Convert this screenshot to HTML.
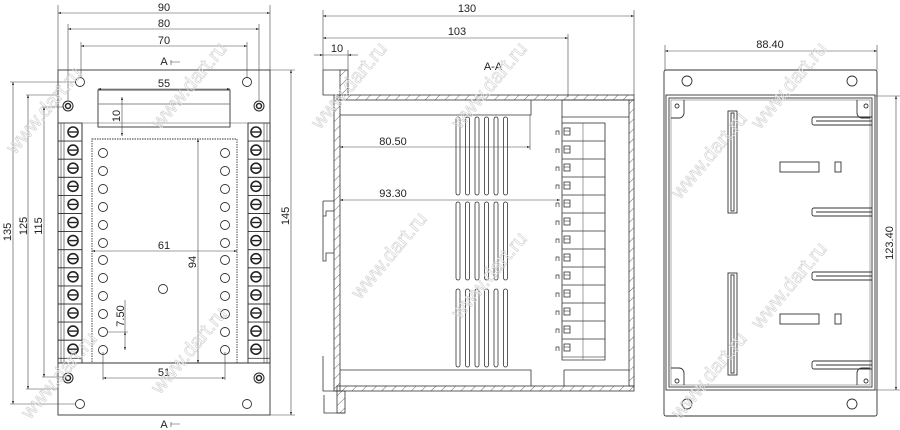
<!DOCTYPE html>
<html><head><meta charset="utf-8"><style>
html,body{margin:0;padding:0;background:#fff}
svg{display:block}
text{font-family:"Liberation Sans",sans-serif;fill:#222}
</style></head><body>
<svg width="900" height="430" viewBox="0 0 900 430" xmlns="http://www.w3.org/2000/svg">
<defs>
<marker id="ar" viewBox="0 0 10 10" refX="10" refY="5" markerWidth="7" markerHeight="5" orient="auto-start-reverse"><path d="M0,1.5L10,5L0,8.5z" fill="#222"/></marker>
<g id="term">
<rect x="58" y="0" width="24" height="18.1" fill="none" stroke="#333" stroke-width="0.8"/>
<circle cx="73" cy="9" r="5" fill="none" stroke="#222" stroke-width="1.6"/>
<line x1="69" y1="9" x2="77" y2="9" stroke="#222" stroke-width="1.4"/>
</g>
<g id="termR">
<rect x="248" y="0" width="22" height="18.1" fill="none" stroke="#333" stroke-width="0.8"/>
<circle cx="256" cy="9" r="5" fill="none" stroke="#222" stroke-width="1.6"/>
<line x1="252" y1="9" x2="260" y2="9" stroke="#222" stroke-width="1.4"/>
</g>
<g id="hole"><circle cx="0" cy="0" r="4.5" fill="none" stroke="#333" stroke-width="0.9"/></g>
<g id="mt">
<rect x="562" y="0" width="43" height="18" fill="none" stroke="#555" stroke-width="0.7"/>
<rect x="564" y="5" width="6" height="7" fill="none" stroke="#333" stroke-width="0.8"/>
<line x1="564" y1="8" x2="570" y2="8" stroke="#333" stroke-width="0.6"/>
<path d="M556,12 v-4 h3 v4" fill="none" stroke="#333" stroke-width="0.7"/>
</g>
<g id="slot"><rect x="0" y="0" width="4" height="78" rx="2" fill="none" stroke="#333" stroke-width="0.8"/></g>
<pattern id="hat" width="7" height="7" patternUnits="userSpaceOnUse" patternTransform="rotate(45)"><line x1="0" y1="0" x2="0" y2="7" stroke="#444" stroke-width="0.8"/></pattern>
</defs>

<!-- ===== LEFT VIEW ===== -->
<g stroke="#333" stroke-width="0.9" fill="none">
<rect x="58" y="70" width="212" height="345"/>
<rect x="58" y="123" width="24" height="240"/>
<rect x="248" y="123" width="22" height="240"/>
<line x1="61" y1="123" x2="61" y2="363" stroke="#777"/>
<line x1="64" y1="123" x2="64" y2="363" stroke="#777"/>
<line x1="264" y1="123" x2="264" y2="363" stroke="#777"/>
<line x1="267" y1="123" x2="267" y2="363" stroke="#777"/>
<line x1="58" y1="363" x2="270" y2="363"/>
<line x1="58" y1="123" x2="270" y2="123" stroke="#aaa"/>
<rect x="98" y="90" width="132" height="37"/>
<line x1="98" y1="104" x2="230" y2="104" stroke="#888"/>
<rect x="92" y="139" width="145" height="224" stroke-dasharray="1.5,1"/>
</g>
<g>
<use href="#term" y="123"/><use href="#term" y="141.1"/><use href="#term" y="159.2"/><use href="#term" y="177.3"/><use href="#term" y="195.4"/><use href="#term" y="213.5"/><use href="#term" y="231.6"/><use href="#term" y="249.7"/><use href="#term" y="267.8"/><use href="#term" y="285.9"/><use href="#term" y="304"/><use href="#term" y="322.1"/><use href="#term" y="340.2"/>
<use href="#termR" y="123"/><use href="#termR" y="141.1"/><use href="#termR" y="159.2"/><use href="#termR" y="177.3"/><use href="#termR" y="195.4"/><use href="#termR" y="213.5"/><use href="#termR" y="231.6"/><use href="#termR" y="249.7"/><use href="#termR" y="267.8"/><use href="#termR" y="285.9"/><use href="#termR" y="304"/><use href="#termR" y="322.1"/><use href="#termR" y="340.2"/>
</g>
<g>
<use href="#hole" x="103" y="153"/><use href="#hole" x="103" y="171"/><use href="#hole" x="103" y="189"/><use href="#hole" x="103" y="207"/><use href="#hole" x="103" y="225"/><use href="#hole" x="103" y="243"/><use href="#hole" x="103" y="260"/><use href="#hole" x="103" y="278"/><use href="#hole" x="103" y="296"/><use href="#hole" x="103" y="314"/><use href="#hole" x="103" y="332"/><use href="#hole" x="103" y="350"/>
<use href="#hole" x="225" y="153"/><use href="#hole" x="225" y="171"/><use href="#hole" x="225" y="189"/><use href="#hole" x="225" y="207"/><use href="#hole" x="225" y="225"/><use href="#hole" x="225" y="243"/><use href="#hole" x="225" y="260"/><use href="#hole" x="225" y="278"/><use href="#hole" x="225" y="296"/><use href="#hole" x="225" y="314"/><use href="#hole" x="225" y="332"/><use href="#hole" x="225" y="350"/>
<use href="#hole" x="163" y="289"/>
<use href="#hole" x="80" y="82"/><use href="#hole" x="247" y="82"/><use href="#hole" x="80" y="404"/><use href="#hole" x="247" y="404"/>
</g>
<g fill="none" stroke="#222">
<circle cx="68" cy="106" r="5" stroke-width="1"/><circle cx="68" cy="106" r="2.5" stroke-width="1.5"/>
<circle cx="259" cy="106" r="5" stroke-width="1"/><circle cx="259" cy="106" r="2.5" stroke-width="1.5"/>
<circle cx="68" cy="378" r="5" stroke-width="1"/><circle cx="68" cy="378" r="2.5" stroke-width="1.5"/>
<circle cx="259" cy="378" r="5" stroke-width="1"/><circle cx="259" cy="378" r="2.5" stroke-width="1.5"/>
</g>
<g stroke="#444" stroke-width="0.6" fill="none">
<line x1="58" y1="5" x2="58" y2="70"/><line x1="270" y1="5" x2="270" y2="70"/>
<line x1="58" y1="13" x2="270" y2="13" marker-start="url(#ar)" marker-end="url(#ar)"/>
<line x1="68" y1="24" x2="68" y2="100"/><line x1="259" y1="24" x2="259" y2="100"/>
<line x1="68" y1="29" x2="259" y2="29" marker-start="url(#ar)" marker-end="url(#ar)"/>
<line x1="81" y1="42" x2="81" y2="77"/><line x1="247" y1="42" x2="247" y2="77"/>
<line x1="81" y1="46" x2="247" y2="46" marker-start="url(#ar)" marker-end="url(#ar)"/>
<line x1="98" y1="89" x2="230" y2="89" marker-start="url(#ar)" marker-end="url(#ar)"/>
<line x1="122" y1="97" x2="122" y2="136" marker-start="url(#ar)" marker-end="url(#ar)"/>
<line x1="92" y1="251" x2="237" y2="251" marker-start="url(#ar)" marker-end="url(#ar)"/>
<line x1="198" y1="139" x2="198" y2="363" marker-start="url(#ar)" marker-end="url(#ar)"/>
<line x1="103" y1="352" x2="103" y2="380"/><line x1="225" y1="352" x2="225" y2="380"/>
<line x1="103" y1="378" x2="225" y2="378" marker-start="url(#ar)" marker-end="url(#ar)"/>
<line x1="108" y1="332" x2="128" y2="332"/>
<line x1="125" y1="332" x2="125" y2="350" marker-start="url(#ar)" marker-end="url(#ar)"/>
<line x1="125" y1="300" x2="125" y2="332"/>
<line x1="10" y1="82" x2="75" y2="82"/><line x1="10" y1="404" x2="75" y2="404"/>
<line x1="13" y1="82" x2="13" y2="404" marker-start="url(#ar)" marker-end="url(#ar)"/>
<line x1="26" y1="95" x2="58" y2="95"/><line x1="26" y1="389" x2="58" y2="389"/>
<line x1="28" y1="95" x2="28" y2="389" marker-start="url(#ar)" marker-end="url(#ar)"/>
<line x1="42" y1="107" x2="63" y2="107"/><line x1="42" y1="377" x2="63" y2="377"/>
<line x1="44" y1="107" x2="44" y2="377" marker-start="url(#ar)" marker-end="url(#ar)"/>
<line x1="270" y1="70" x2="295" y2="70"/><line x1="270" y1="415" x2="295" y2="415"/>
<line x1="291" y1="70" x2="291" y2="415" marker-start="url(#ar)" marker-end="url(#ar)"/>
<path d="M171,60 v5 M171,62 h9" />
<path d="M171,422 v5 M171,424 h9" />
</g>
<g font-size="11" text-anchor="middle">
<text x="164" y="11">90</text>
<text x="164" y="27">80</text>
<text x="164" y="44">70</text>
<text x="164" y="65">A</text>
<text x="164" y="87">55</text>
<text x="164" y="249">61</text>
<text x="164" y="376">51</text>
<text x="164" y="428">A</text>
<text transform="translate(120,116) rotate(-90)">10</text>
<text transform="translate(196,262) rotate(-90)">94</text>
<text transform="translate(124,316) rotate(-90)">7.50</text>
<text transform="translate(11,232) rotate(-90)">135</text>
<text transform="translate(27,226) rotate(-90)">125</text>
<text transform="translate(42,226) rotate(-90)">115</text>
<text transform="translate(289,216) rotate(-90)">145</text>
</g>

<!-- ===== MIDDLE VIEW ===== -->
<g stroke="#333" stroke-width="0.8">
<rect x="337" y="95" width="297" height="5" fill="url(#hat)"/>
<rect x="337" y="386" width="297" height="5" fill="url(#hat)"/>
<rect x="334" y="95" width="6" height="296" fill="url(#hat)"/>
<rect x="629" y="100" width="5" height="286" fill="url(#hat)"/>
<rect x="340" y="70" width="8" height="25" fill="url(#hat)"/>
<rect x="337" y="391" width="8" height="22" fill="url(#hat)"/>
</g>
<g stroke="#333" stroke-width="0.8" fill="none">
<path d="M323,70 H340 M323,70 V95 H334"/>
<path d="M323,201 v15 h3 v-5 h8 M323,201 h11 M323,216 v45 h3 v-8 h8"/>
<path d="M323,356 v35 h11 M323,391 h14 M324,395 v18 h21"/>
<path d="M340,115 H531 V100"/>
<path d="M340,370 H531 V386"/>
<path d="M562,100 V117 H629 M562,100 H629"/>
<path d="M564,370 V386 M564,370 H629"/>
<path d="M562,117 V360 H605 V123 M605,123 H562"/>
<line x1="583" y1="123" x2="583" y2="360" stroke="#888"/>
</g>
<g>
<use href="#mt" y="123"/><use href="#mt" y="141"/><use href="#mt" y="159"/><use href="#mt" y="177"/><use href="#mt" y="195"/><use href="#mt" y="213"/><use href="#mt" y="231"/><use href="#mt" y="249"/><use href="#mt" y="267"/><use href="#mt" y="285"/><use href="#mt" y="303"/><use href="#mt" y="321"/><use href="#mt" y="339"/>
</g>
<g>
<use href="#slot" x="456" y="117"/><use href="#slot" x="465.5" y="117"/><use href="#slot" x="475" y="117"/><use href="#slot" x="484.5" y="117"/><use href="#slot" x="494" y="117"/><use href="#slot" x="503.5" y="117"/>
<use href="#slot" x="456" y="202"/><use href="#slot" x="465.5" y="202"/><use href="#slot" x="475" y="202"/><use href="#slot" x="484.5" y="202"/><use href="#slot" x="494" y="202"/><use href="#slot" x="503.5" y="202"/>
<use href="#slot" x="456" y="289"/><use href="#slot" x="465.5" y="289"/><use href="#slot" x="475" y="289"/><use href="#slot" x="484.5" y="289"/><use href="#slot" x="494" y="289"/><use href="#slot" x="503.5" y="289"/>
</g>
<g stroke="#444" stroke-width="0.6" fill="none">
<line x1="323" y1="10" x2="323" y2="70"/><line x1="634" y1="10" x2="634" y2="95"/>
<line x1="323" y1="16" x2="634" y2="16" marker-start="url(#ar)" marker-end="url(#ar)"/>
<line x1="568" y1="34" x2="568" y2="97"/>
<line x1="323" y1="38" x2="568" y2="38" marker-start="url(#ar)" marker-end="url(#ar)"/>
<line x1="348" y1="50" x2="348" y2="70"/>
<line x1="314" y1="55" x2="323" y2="55" marker-end="url(#ar)"/>
<line x1="358" y1="55" x2="348" y2="55" marker-end="url(#ar)"/>
<line x1="323" y1="55" x2="348" y2="55"/>
<line x1="340" y1="147" x2="530" y2="147" marker-start="url(#ar)" marker-end="url(#ar)"/>
<line x1="530" y1="115" x2="530" y2="150"/>
<line x1="340" y1="200" x2="560" y2="200" marker-start="url(#ar)" marker-end="url(#ar)"/>
</g>
<g font-size="11" text-anchor="middle">
<text x="467" y="12">130</text>
<text x="457" y="35">103</text>
<text x="337" y="52">10</text>
<text x="493" y="70">A-A</text>
<text x="393" y="145">80.50</text>
<text x="393" y="197">93.30</text>
</g>

<!-- ===== RIGHT VIEW ===== -->
<g stroke="#333" stroke-width="0.9" fill="none">
<rect x="664" y="70" width="213" height="346" rx="2"/>
<rect x="666" y="95" width="209" height="295"/>
<rect x="669" y="98" width="203" height="289"/>
<rect x="671" y="100" width="199" height="285" stroke="#777" stroke-width="0.6"/>
<path d="M671,118 h8 a5,5 0 0 0 5,-5 v-13"/>
<path d="M870,118 h-8 a5,5 0 0 1 -5,-5 v-13"/>
<path d="M671,368 h8 a5,5 0 0 1 5,5 v12"/>
<path d="M870,368 h-8 a5,5 0 0 0 -5,5 v12"/>
<circle cx="677" cy="106" r="2"/><circle cx="866" cy="106" r="2"/>
<circle cx="677" cy="381" r="2"/><circle cx="866" cy="381" r="2"/>
<circle cx="687" cy="81" r="5"/><circle cx="852" cy="81" r="5"/>
<circle cx="687" cy="404" r="5"/><circle cx="852" cy="404" r="5"/>
<rect x="728" y="111" width="9" height="102"/><rect x="731" y="113" width="3" height="98"/>
<rect x="728" y="273" width="9" height="102"/><rect x="731" y="275" width="3" height="98"/>
<path d="M872,117 h-58 a2,2 0 0 0 -2,2 v4 a2,2 0 0 0 2,2 h58 M872,121 h-56"/>
<path d="M872,208 h-58 a2,2 0 0 0 -2,2 v4 a2,2 0 0 0 2,2 h58 M872,212 h-56"/>
<path d="M872,272 h-58 a2,2 0 0 0 -2,2 v4 a2,2 0 0 0 2,2 h58 M872,276 h-56"/>
<path d="M872,361 h-58 a2,2 0 0 0 -2,2 v4 a2,2 0 0 0 2,2 h58 M872,365 h-56"/>
<rect x="780" y="162" width="39" height="10"/>
<rect x="835" y="162" width="6" height="10"/>
<rect x="780" y="314" width="39" height="10"/>
<rect x="835" y="314" width="6" height="10"/>
</g>
<g stroke="#444" stroke-width="0.6" fill="none">
<line x1="665" y1="45" x2="665" y2="70"/><line x1="877" y1="45" x2="877" y2="70"/>
<line x1="665" y1="51" x2="877" y2="51" marker-start="url(#ar)" marker-end="url(#ar)"/>
<line x1="875" y1="96" x2="900" y2="96"/><line x1="875" y1="390" x2="900" y2="390"/>
<line x1="896" y1="96" x2="896" y2="390" marker-start="url(#ar)" marker-end="url(#ar)"/>
</g>
<g font-size="11" text-anchor="middle">
<text x="770" y="48">88.40</text>
<text transform="translate(893,243) rotate(-90)">123.40</text>
</g>

<!-- watermarks -->
<g font-size="20" stroke="#d4d4d4" stroke-width="0.7" font-family="Liberation Sans,sans-serif">
<text transform="translate(15,155) rotate(-50)" style="fill:none">www.dart.ru</text>
<text transform="translate(160,130) rotate(-50)" style="fill:none">www.dart.ru</text>
<text transform="translate(30,420) rotate(-50)" style="fill:none">www.dart.ru</text>
<text transform="translate(160,395) rotate(-50)" style="fill:none">www.dart.ru</text>
<text transform="translate(320,130) rotate(-50)" style="fill:none">www.dart.ru</text>
<text transform="translate(460,130) rotate(-50)" style="fill:none">www.dart.ru</text>
<text transform="translate(360,300) rotate(-50)" style="fill:none">www.dart.ru</text>
<text transform="translate(460,320) rotate(-50)" style="fill:none">www.dart.ru</text>
<text transform="translate(680,200) rotate(-50)" style="fill:none">www.dart.ru</text>
<text transform="translate(760,130) rotate(-50)" style="fill:none">www.dart.ru</text>
<text transform="translate(680,420) rotate(-50)" style="fill:none">www.dart.ru</text>
<text transform="translate(760,330) rotate(-50)" style="fill:none">www.dart.ru</text>
</g>
</svg>
</body></html>
